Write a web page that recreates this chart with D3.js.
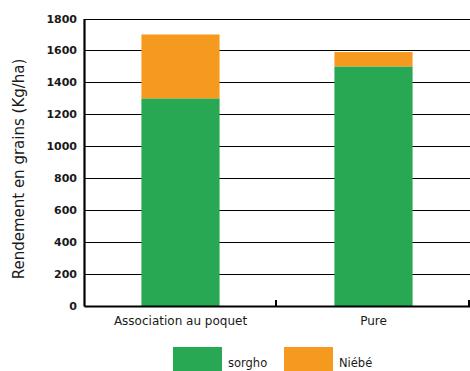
<!DOCTYPE html>
<html>
<head>
<meta charset="utf-8">
<script src="https://cdn.jsdelivr.net/npm/d3@7/dist/d3.min.js"></script>
<style>
  html, body { margin: 0; padding: 0; background: #fff; }
  svg { display: block; }
  text { font-family: "DejaVu Sans", "Noto Sans", sans-serif; fill: #1a1a1a; }
</style>
</head>
<body>
<svg id="chart" width="470" height="371"></svg>
<script>
// Grain yield by cropping system (kg/ha)
const categories = ["Association au poquet", "Pure"];
const seriesNames = ["sorgho", "Niébé"];
const sorgho = [1300, 1500];
const niebe = [400, 90];
const yTicks = [0, 200, 400, 600, 800, 1000, 1200, 1400, 1600, 1800];
const colors = ["#28a853", "#f59a1e"];

const svg = d3.select("#chart");
const margin = { left: 84, right: 0, top: 18.5, bottom: 65 };
const W = 470, H = 371;
const font = "'DejaVu Sans', 'Noto Sans', sans-serif";

const x = d3.scaleBand().domain(categories).range([margin.left, W]).paddingInner(0).paddingOuter(0);
const y = d3.scaleLinear().domain([0, 1800]).range([306, 18.5]);

const rows = categories.map((c, i) => ({ cat: c, sorgho: sorgho[i], niebe: niebe[i] }));
const stack = d3.stack().keys(["sorgho", "niebe"]);
const stacked = stack(rows);

// horizontal grid lines
svg.append("g").selectAll("line").data(yTicks.filter(d => d > 0)).join("line")
  .attr("x1", margin.left).attr("x2", W)
  .attr("y1", d => Math.round(y(d)) + 0.5).attr("y2", d => Math.round(y(d)) + 0.5)
  .attr("stroke", "#000").attr("stroke-width", 1.2);

// stacked bars
const barW = x.bandwidth() * 0.405;
svg.append("g").selectAll("g").data(stacked).join("g")
  .attr("fill", (d, i) => colors[i])
  .selectAll("rect").data(d => d).join("rect")
  .attr("x", d => x(d.data.cat) + x.bandwidth() / 2 - barW / 2)
  .attr("width", barW)
  .attr("y", d => y(d[1]))
  .attr("height", d => y(d[0]) - y(d[1]));

// y axis
const yAxis = svg.append("g").attr("transform", `translate(${margin.left},0)`)
  .call(d3.axisLeft(y).tickValues(yTicks).tickSize(0).tickPadding(7).tickFormat(d3.format("d")));
yAxis.select(".domain").attr("stroke", "#000").attr("stroke-width", 2.2);
yAxis.selectAll("text").style("font-size", "11px").style("font-weight", "600")
  .style("font-family", font).attr("fill", "#1a1a1a");

// x axis
const xAxis = svg.append("g").attr("transform", `translate(0,${y(0)})`)
  .call(d3.axisBottom(x).tickSize(0).tickPadding(10));
xAxis.select(".domain").attr("stroke", "#000").attr("stroke-width", 2.2);
xAxis.selectAll("text").style("font-size", "12px")
  .style("font-family", font).attr("fill", "#1a1a1a");

// band separators on the x axis
svg.append("g").selectAll("line").data(categories).join("line")
  .attr("x1", d => x(d) + x.bandwidth() - 1).attr("x2", d => x(d) + x.bandwidth() - 1)
  .attr("y1", y(0) - 6).attr("y2", y(0))
  .attr("stroke", "#000").attr("stroke-width", 2);

// y axis title
svg.append("text")
  .attr("transform", `translate(24,169) rotate(-90)`)
  .attr("text-anchor", "middle")
  .style("font-size", "15px")
  .text("Rendement en grains (Kg/ha)");

// legend
const legend = svg.append("g");
const legendX = [173, 284];
seriesNames.forEach((name, i) => {
  legend.append("rect").attr("x", legendX[i]).attr("y", 347).attr("width", 49).attr("height", 24).attr("fill", colors[i]);
  legend.append("text").attr("x", legendX[i] + 55).attr("y", 367).style("font-size", "11.5px").text(name);
});
</script>
</body>
</html>
